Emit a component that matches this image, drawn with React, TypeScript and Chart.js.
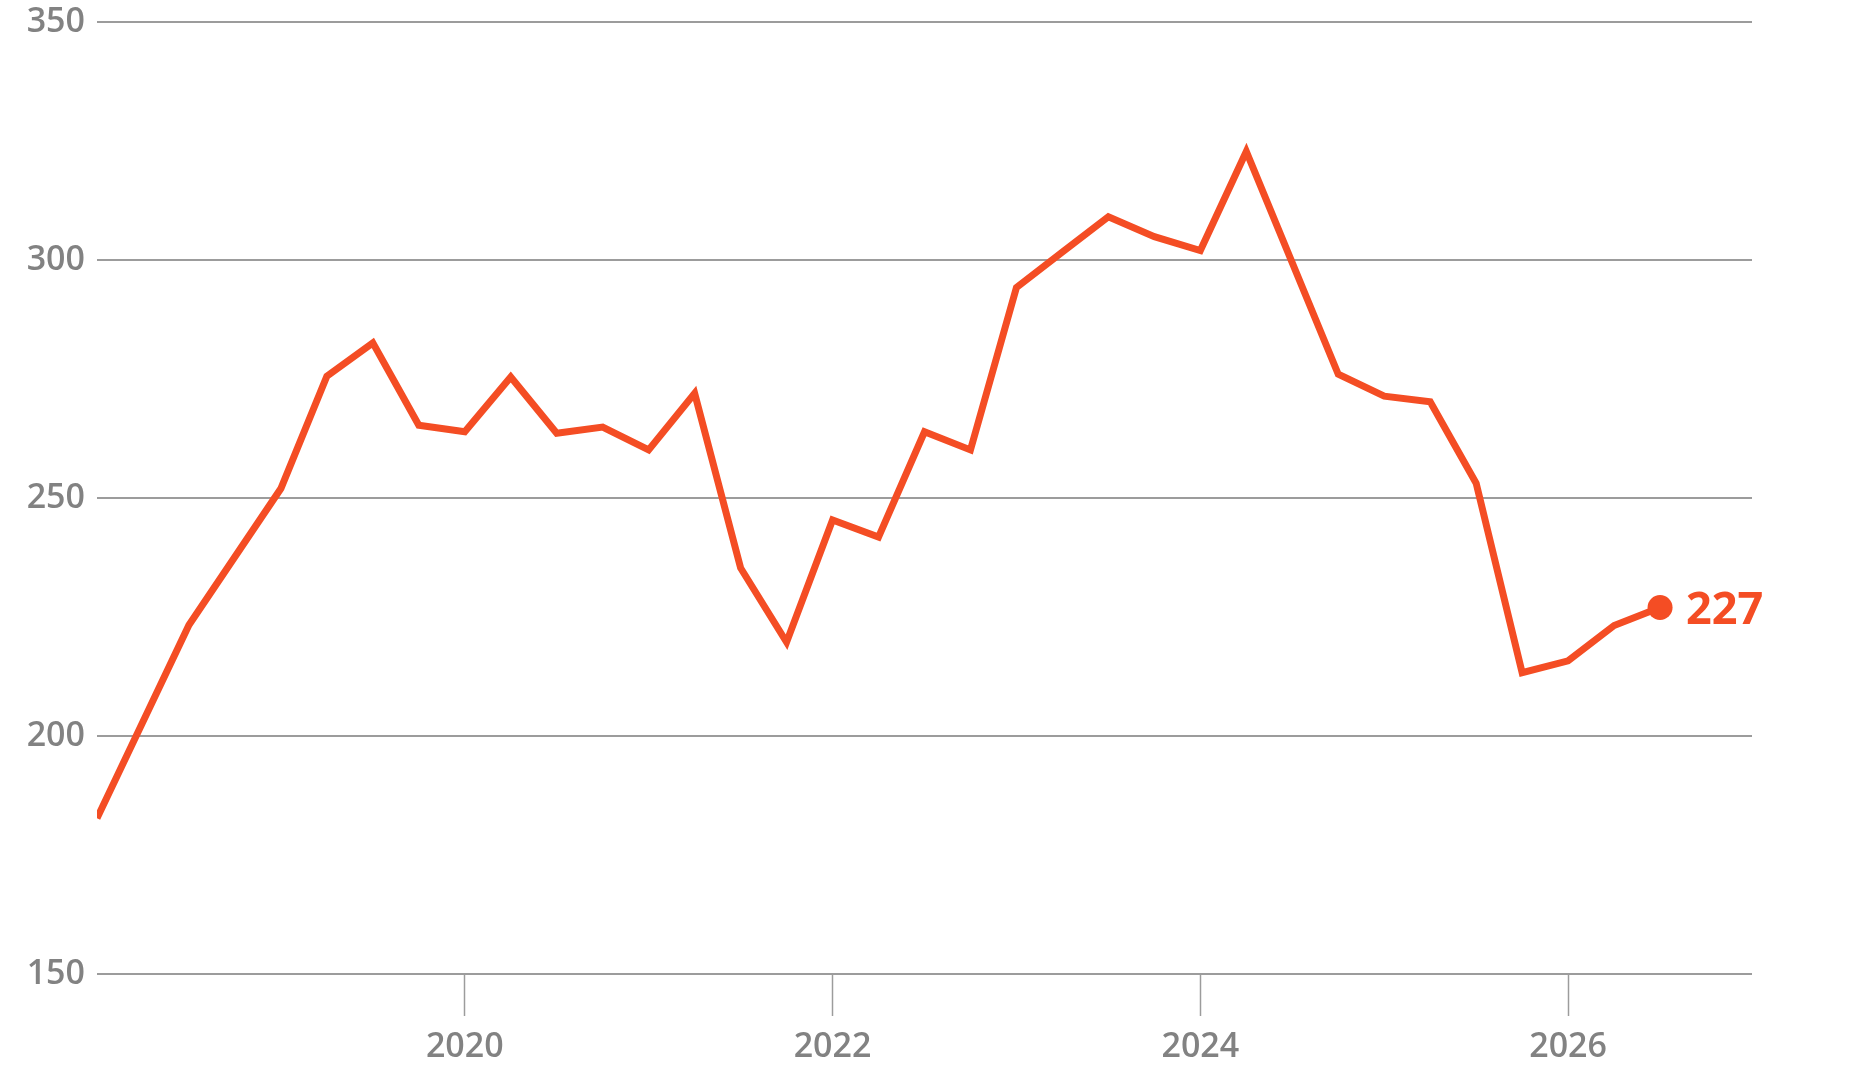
import { useEffect, useRef } from "react";
import { Chart, registerables } from "chart.js";

Chart.register(...registerables);

// quarterly readings (fractional year), only where the line has a corner
const periods = [
  2018.0, 2018.5, 2019.0, 2019.25, 2019.5, 2019.75, 2020.0, 2020.25, 2020.5, 2020.75,
  2021.0, 2021.25, 2021.5, 2021.75, 2022.0, 2022.25, 2022.5, 2022.75, 2023.0, 2023.25,
  2023.5, 2023.75, 2024.0, 2024.25, 2024.75, 2025.0, 2025.25, 2025.5, 2025.75, 2026.0,
  2026.25, 2026.5,
];
const values = [
  182.7, 223.3, 252.0, 275.6, 282.6, 265.3, 263.9, 275.4, 263.6, 264.9,
  260.1, 272.0, 235.3, 219.7, 245.4, 241.8, 263.9, 260.1, 294.2, 301.7,
  309.1, 304.9, 302.0, 322.8, 276.0, 271.4, 270.2, 253.1, 213.3, 215.8,
  223.2, 227.0,
];
const yearTicks = [2020, 2022, 2024, 2026];
const valueTicks = [150, 200, 250, 300, 350];

const ORANGE = "#F44D24";
const GRID = "#9c9c9c";
const LABEL = "#828282";
const FONT = "'Open Sans', sans-serif";

const lastLabel = {
  id: "lastLabel",
  afterDatasetsDraw(chart: Chart) {
    const meta = chart.getDatasetMeta(0);
    const pt = meta.data[meta.data.length - 1];
    if (!pt) return;
    const { ctx } = chart;
    const size = 45;
    ctx.save();
    ctx.fillStyle = ORANGE;
    ctx.font = `bold ${size}px ${FONT}`;
    ctx.textAlign = "left";
    ctx.textBaseline = "alphabetic";
    ctx.fillText(String(Math.round(values[values.length - 1])), pt.x + 26, pt.y + size * 0.36);
    ctx.restore();
  },
};

function LineChart() {
  const canvasRef = useRef<HTMLCanvasElement>(null);
  const chartRef = useRef<Chart | null>(null);

  useEffect(() => {
    if (!canvasRef.current) return;
    chartRef.current?.destroy();
    const last = values.length - 1;

    chartRef.current = new Chart(canvasRef.current, {
      type: "line",
      data: {
        datasets: [{
          data: periods.map((x, i) => ({ x, y: values[i] })),
          borderColor: ORANGE,
          backgroundColor: ORANGE,
          borderWidth: 7,
          borderCapStyle: "butt",
          borderJoinStyle: "miter",
          tension: 0,
          pointRadius: (c: any) => (c.dataIndex === last ? 12.5 : 0),
          pointBorderWidth: 0,
          pointHoverRadius: 0,
        }],
      },
      options: {
        animation: false,
        responsive: true,
        maintainAspectRatio: false,
        layout: { padding: { left: 0, right: 110, top: 22, bottom: 0 } },
        plugins: { legend: { display: false }, tooltip: { enabled: false } },
        scales: {
          x: {
            type: "linear",
            min: 2018,
            max: 2027,
            afterBuildTicks: (s: any) => { s.ticks = yearTicks.map((value) => ({ value })); },
            afterFit: (s: any) => { s.height = 94; s.paddingLeft = 0; s.paddingRight = 0; },
            border: { display: false },
            grid: { drawOnChartArea: false, drawTicks: true, tickLength: 42, tickColor: GRID, tickWidth: 1.5 },
            ticks: { color: LABEL, font: { family: FONT, size: 34, weight: 600 }, padding: 11, maxRotation: 0, callback: (v: any) => String(v) },
          },
          y: {
            min: 150,
            max: 350,
            afterBuildTicks: (s: any) => { s.ticks = valueTicks.map((value) => ({ value })); },
            afterFit: (s: any) => { s.width = 97; s.paddingTop = 0; s.paddingBottom = 0; },
            border: { display: false },
            grid: { color: GRID, lineWidth: 2, drawTicks: false },
            ticks: { color: LABEL, font: { family: FONT, size: 34, weight: 600 }, padding: 12 },
          },
        },
      },
      plugins: [lastLabel],
    });

    return () => { chartRef.current?.destroy(); };
  }, []);

  return <div style={{ width: "1862px", height: "1068px", background: "#fff" }}><canvas ref={canvasRef} /></div>;
}

export default function App() {
  useEffect(() => { document.body.style.margin = "0"; }, []);
  return <LineChart />;
}
